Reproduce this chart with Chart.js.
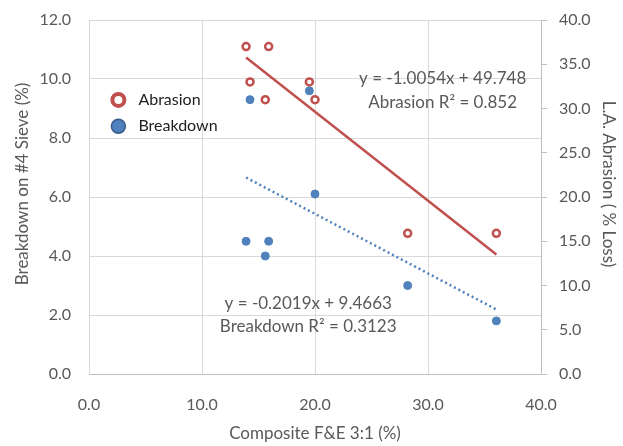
<!DOCTYPE html>
<html>
<head>
<meta charset="utf-8">
<script src="https://cdn.jsdelivr.net/npm/chart.js@4"></script>
<style>
  html, body { margin: 0; padding: 0; background: #fff; }
  #wrap { width: 623px; height: 446px; }
</style>
</head>
<body>
<div id="wrap"><canvas id="myChart"></canvas></div>
<script>
// data
const abrasionX = [13.9, 15.9, 14.25, 15.6, 19.5, 20.0, 28.2, 36.05];
const abrasionY = [37.0, 37.0, 33.0, 31.0, 33.0, 31.0, 15.9, 15.9];   // right axis (% loss)
const breakdownX = [14.25, 19.5, 20.0, 13.9, 15.9, 15.6, 28.2, 36.05];
const breakdownY = [9.3, 9.6, 6.1, 4.5, 4.5, 4.0, 3.0, 1.8];         // left axis (%)

// trendline equations as printed on the chart
const abrasionFit = { slope: -1.0054, intercept: 49.748, r2: 0.852 };
const breakdownFit = { slope: -0.2019, intercept: 9.4663, r2: 0.3123 };

const xTicks = [0, 10, 20, 30, 40];
const leftTicks = [0, 2, 4, 6, 8, 10, 12];
const rightTicks = [0, 5, 10, 15, 20, 25, 30, 35, 40];

const red = '#c0504d';
const blue = '#4f81bd';
const textGray = '#595959';
const font = 'Lato, "Open Sans", sans-serif';

function toPoints(xs, ys) {
    return xs.map((x, i) => ({ x: x, y: ys[i] }));
}

function fitLine(xs, fit) {
    let lo = Math.min(...xs), hi = Math.max(...xs);
    return [
        { x: lo, y: fit.slope * lo + fit.intercept },
        { x: hi, y: fit.slope * hi + fit.intercept }
    ];
}

// legend + equations drawn inside the plot
const notes = {
    id: 'notes',
    afterDatasetsDraw(chart) {
        const c = chart.ctx;
        const x = chart.scales.x, y = chart.scales.y;
        c.save();
        c.font = '16px ' + font;
        c.textBaseline = 'middle';

        // legend
        let lx = x.getPixelForValue(2.6);
        let ly1 = y.getPixelForValue(9.29), ly2 = y.getPixelForValue(8.4);
        c.beginPath();
        c.arc(lx, ly1, 6, 0, Math.PI * 2);
        c.fillStyle = '#fff';
        c.fill();
        c.lineWidth = 4;
        c.strokeStyle = red;
        c.stroke();
        c.beginPath();
        c.arc(lx, ly2, 7, 0, Math.PI * 2);
        c.fillStyle = blue;
        c.fill();
        c.lineWidth = 1.5;
        c.strokeStyle = '#385d8a';
        c.stroke();
        c.fillStyle = '#222';
        c.textAlign = 'left';
        c.fillText('Abrasion', lx + 20, ly1);
        c.fillText('Breakdown', lx + 20, ly2);

        // equations
        c.font = '17px ' + font;
        c.fillStyle = textGray;
        c.textAlign = 'center';
        let ax = x.getPixelForValue(31.3);
        c.fillText('y = ' + abrasionFit.slope + 'x + ' + abrasionFit.intercept, ax, y.getPixelForValue(10.03));
        c.fillText('Abrasion R² = ' + abrasionFit.r2, ax, y.getPixelForValue(9.2));
        let bx = x.getPixelForValue(19.4);
        c.fillText('y = ' + breakdownFit.slope + 'x + ' + breakdownFit.intercept, bx, y.getPixelForValue(2.4));
        c.fillText('Breakdown R² = ' + breakdownFit.r2, bx, y.getPixelForValue(1.6));
        c.restore();
    }
};

// keep the plot box fixed: no extra room for half tick labels
function fixPad(s) {
    s.paddingTop = 0;
    s.paddingBottom = 0;
}

let ctx = document.getElementById('myChart');
let myChart = new Chart(ctx, {
    type: 'scatter',
    data: {
        datasets: [{
            label: 'Abrasion trend',
            data: fitLine(abrasionX, abrasionFit),
            yAxisID: 'y2',
            showLine: true,
            borderColor: red,
            borderWidth: 2.5,
            pointRadius: 0
        }, {
            label: 'Breakdown trend',
            data: fitLine(breakdownX, breakdownFit),
            yAxisID: 'y',
            showLine: true,
            borderColor: blue,
            borderWidth: 2.5,
            borderDash: [2, 3],
            pointRadius: 0
        }, {
            label: 'Abrasion',
            data: toPoints(abrasionX, abrasionY),
            yAxisID: 'y2',
            pointRadius: 3.5,
            pointBackgroundColor: '#fff',
            pointBorderColor: red,
            pointBorderWidth: 2.5
        }, {
            label: 'Breakdown',
            data: toPoints(breakdownX, breakdownY),
            yAxisID: 'y',
            pointRadius: 4,
            pointBackgroundColor: blue,
            pointBorderColor: blue,
            pointBorderWidth: 1
        }]
    },
    options: {
        responsive: true,
        maintainAspectRatio: false,
        animation: false,
        layout: {
            padding: { top: 20, left: 0, right: 0, bottom: 0 }
        },
        scales: {
            x: {
                type: 'linear',
                min: 0,
                max: 40,
                afterBuildTicks: (s) => { s.ticks = xTicks.map(v => ({ value: v })); },
                afterFit: (s) => { s.height = 72; s.paddingLeft = 0; s.paddingRight = 0; },
                ticks: {
                    color: textGray,
                    font: { family: font, size: 16 },
                    padding: 21,
                    callback: (v) => v.toFixed(1)
                },
                grid: { color: '#d9d9d9', drawTicks: false },
                border: { color: '#bfbfbf' },
                title: {
                    display: true,
                    text: 'Composite F&E 3:1 (%)',
                    color: textGray,
                    font: { family: font, size: 17 },
                    padding: { top: 8, bottom: 2 }
                }
            },
            y: {
                position: 'left',
                min: 0,
                max: 12,
                afterBuildTicks: (s) => { s.ticks = leftTicks.map(v => ({ value: v })); },
                afterFit: (s) => { s.width = 89; fixPad(s); },
                ticks: {
                    color: textGray,
                    font: { family: font, size: 16 },
                    padding: 18,
                    callback: (v) => v.toFixed(1)
                },
                grid: { color: '#d9d9d9', drawTicks: false },
                border: { color: '#d9d9d9' },
                title: {
                    display: true,
                    // leading spaces nudge the rotated title up a bit, like the original
                    text: '      Breakdown on #4 Sieve (%)',
                    color: textGray,
                    font: { family: font, size: 17 },
                    padding: { top: 12 }
                }
            },
            y2: {
                position: 'right',
                min: 0,
                max: 40,
                afterBuildTicks: (s) => { s.ticks = rightTicks.map(v => ({ value: v })); },
                afterFit: (s) => { s.width = 82; fixPad(s); },
                ticks: {
                    color: textGray,
                    font: { family: font, size: 16 },
                    padding: 12,
                    callback: (v) => v.toFixed(1)
                },
                grid: { drawOnChartArea: false, color: '#bfbfbf', tickLength: 6 },
                border: { color: '#bfbfbf' },
                title: {
                    display: true,
                    text: 'L.A. Abrasion ( % Loss)      ',
                    color: textGray,
                    font: { family: font, size: 17 },
                    padding: { bottom: 0 }
                }
            }
        },
        plugins: {
            legend: { display: false },
            tooltip: { enabled: false }
        }
    },
    plugins: [notes]
});
</script>
</body>
</html>
